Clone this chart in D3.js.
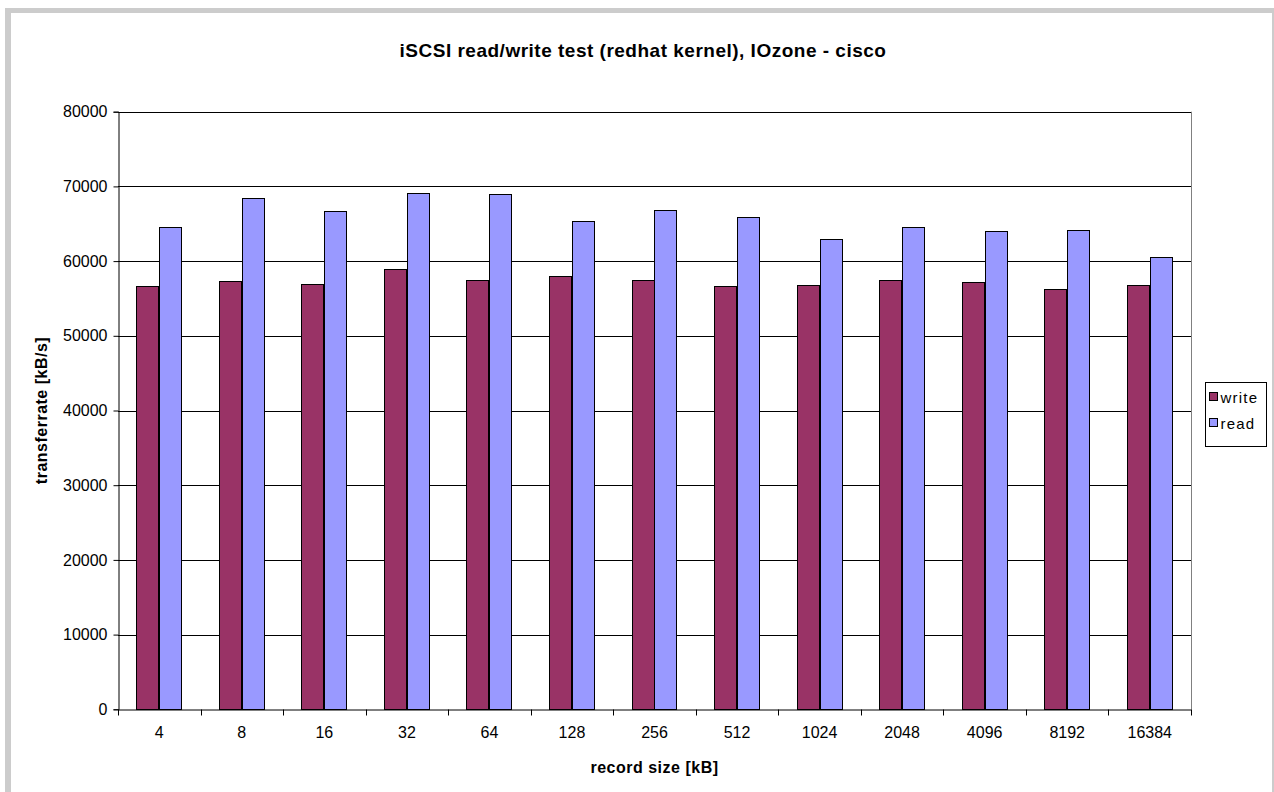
<!DOCTYPE html>
<html>
<head>
<meta charset="utf-8">
<script src="https://cdn.jsdelivr.net/npm/d3@7"></script>
<style>
  body { margin: 0; background: #fff; }
  svg text { font-family: "Liberation Sans", Arial, sans-serif; }
</style>
</head>
<body>
<div id="chart"></div>
<script>
// -------------------- Data --------------------
const categories = ["4", "8", "16", "32", "64", "128", "256", "512", "1024", "2048", "4096", "8192", "16384"];
const writeValues = [56670, 57330, 56970, 58940, 57510, 58020, 57510, 56670, 56840, 57510, 57160, 56310, 56800];
const readValues  = [64520, 68400, 66670, 69120, 68940, 65410, 66840, 65940, 62960, 64560, 64030, 64160, 60510];
const yTicks = [0, 10000, 20000, 30000, 40000, 50000, 60000, 70000, 80000];
const series = [
  { name: "write", values: writeValues, color: "#993366" },
  { name: "read", values: readValues, color: "#9999FF" }
];

// -------------------- SVG container --------------------
const width = 1274, height = 792;
const svg = d3.select("#chart").append("svg")
  .attr("width", width)
  .attr("height", height);

// gray frame around the chart area
svg.append("rect").attr("x", 0).attr("y", 0).attr("width", width).attr("height", height).attr("fill", "#fff");
svg.append("rect").attr("x", 5).attr("y", 8).attr("width", 1269).attr("height", 790).attr("fill", "#cccccc");
svg.append("rect").attr("x", 11).attr("y", 13).attr("width", 1261).attr("height", 790).attr("fill", "#fff");

const plot = { left: 118, right: 1191, top: 111.7, bottom: 709.3 };

const x = d3.scaleBand()
  .domain(categories)
  .range([plot.left, plot.right]);

const xInner = d3.scaleBand()
  .domain(series.map(s => s.name))
  .range([0, x.bandwidth()])
  .paddingInner(0)
  .paddingOuter(0.8);

const y = d3.scaleLinear()
  .domain([0, 80000])
  .range([plot.bottom, plot.top]);

// -------------------- Gridlines --------------------
svg.append("g")
  .selectAll("line")
  .data(yTicks.filter(t => t > 0))
  .join("line")
  .attr("x1", plot.left)
  .attr("x2", plot.right)
  .attr("y1", d => Math.round(y(d)) + 0.5)
  .attr("y2", d => Math.round(y(d)) + 0.5)
  .attr("stroke", "#000")
  .attr("stroke-width", 1);

// plot area right border
svg.append("line")
  .attr("x1", plot.right + 0.5).attr("x2", plot.right + 0.5)
  .attr("y1", plot.top).attr("y2", plot.bottom)
  .attr("stroke", "#808080");

// -------------------- Bars --------------------
const group = svg.append("g")
  .selectAll("g")
  .data(series)
  .join("g")
  .attr("fill", d => d.color);

group.selectAll("rect")
  .data(s => s.values.map((v, i) => ({ cat: categories[i], value: v, name: s.name })))
  .join("rect")
  .attr("x", d => Math.round(x(d.cat) + xInner(d.name)) + 0.5)
  .attr("y", d => Math.round(y(d.value)) + 0.5)
  .attr("width", Math.round(xInner.bandwidth()) - 1)
  .attr("height", d => Math.round(plot.bottom) - Math.round(y(d.value)))
  .attr("stroke", "#000")
  .attr("stroke-width", 1);

// -------------------- Axes --------------------
const yAxis = d3.axisLeft(y)
  .tickValues(yTicks)
  .tickSize(5)
  .tickPadding(6)
  .tickFormat(d3.format("d"));

const yg = svg.append("g")
  .attr("transform", `translate(${plot.left + 0.5},0)`)
  .call(yAxis);

const xAxis = d3.axisBottom(x).tickSize(0).tickPadding(17);
const xg = svg.append("g")
  .attr("transform", `translate(0,${Math.round(plot.bottom) + 0.5})`)
  .call(xAxis);

// category boundary ticks
xg.append("g")
  .selectAll("line")
  .data(categories.map((c, i) => i).concat([categories.length]))
  .join("line")
  .attr("x1", i => Math.round(plot.left + i * x.step()) + 0.5)
  .attr("x2", i => Math.round(plot.left + i * x.step()) + 0.5)
  .attr("y1", 0)
  .attr("y2", 6)
  .attr("stroke", "#000");

[yg, xg].forEach(g => {
  g.selectAll(".domain").attr("stroke", "#000");
  g.selectAll(".tick line").attr("stroke", "#000");
  g.selectAll("text")
    .attr("fill", "#000")
    .style("font-size", "16px");
});

// -------------------- Titles --------------------
svg.append("text")
  .attr("x", 643)
  .attr("y", 57)
  .attr("text-anchor", "middle")
  .style("font-size", "19px")
  .style("font-weight", "bold")
  .style("letter-spacing", "0.5px")
  .text("iSCSI read/write test (redhat kernel), IOzone - cisco");

svg.append("text")
  .attr("x", (plot.left + plot.right) / 2)
  .attr("y", 773)
  .attr("text-anchor", "middle")
  .style("font-size", "16px")
  .style("font-weight", "bold")
  .style("letter-spacing", "0.5px")
  .text("record size [kB]");

svg.append("text")
  .attr("transform", `translate(47,${(plot.top + plot.bottom) / 2}) rotate(-90)`)
  .attr("text-anchor", "middle")
  .style("font-size", "16px")
  .style("font-weight", "bold")
  .style("letter-spacing", "0.5px")
  .text("transferrate [kB/s]");

// -------------------- Legend --------------------
const legend = svg.append("g").attr("transform", "translate(1205.5,382.5)");
legend.append("rect")
  .attr("width", 61)
  .attr("height", 64)
  .attr("fill", "#fff")
  .attr("stroke", "#000");

const item = legend.selectAll("g.item")
  .data(series)
  .join("g")
  .attr("class", "item")
  .attr("transform", (d, i) => `translate(4,${10 + i * 26})`);

item.append("rect")
  .attr("width", 8)
  .attr("height", 8)
  .attr("fill", d => d.color)
  .attr("stroke", "#000");

item.append("text")
  .attr("x", 11)
  .attr("y", 10)
  .style("font-size", "15px")
  .style("letter-spacing", "1.2px")
  .text(d => d.name);
</script>
</body>
</html>
